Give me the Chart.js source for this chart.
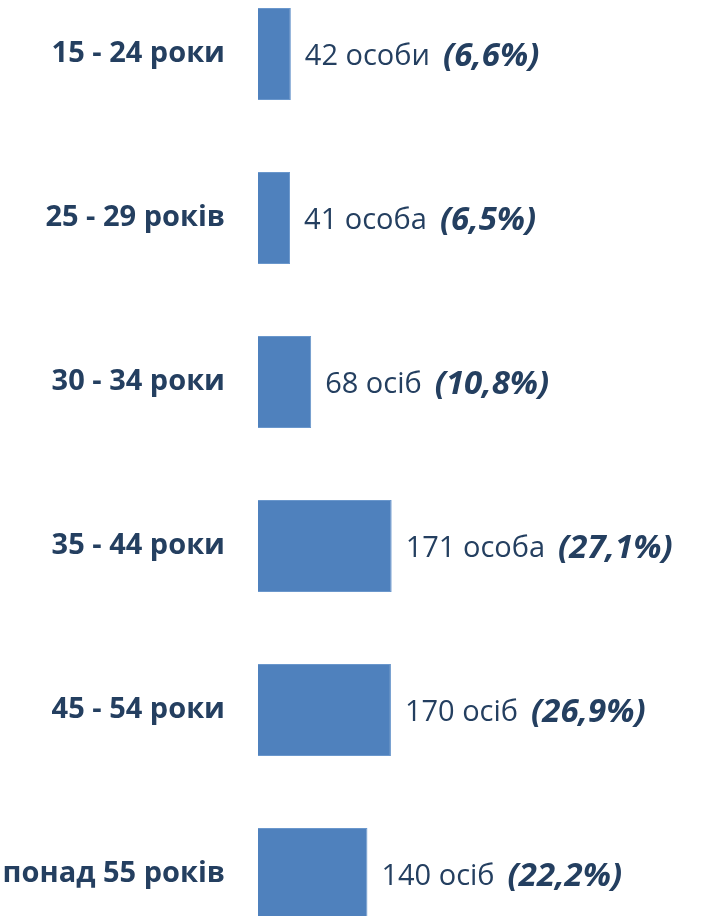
<!DOCTYPE html>
<html>
<head>
<meta charset="utf-8">
<script src="https://cdn.jsdelivr.net/npm/chart.js@4/dist/chart.umd.min.js"></script>
<style>
  html, body { margin: 0; padding: 0; background: #fff; overflow: hidden; }
  #chart { position: absolute; left: 0; top: -28px; }
</style>
</head>
<body>
<canvas id="chart" width="727" height="984"></canvas>
<script>
// --- дані ---
const categories = ['15 - 24 роки', '25 - 29 років', '30 - 34 роки', '35 - 44 роки', '45 - 54 роки', 'понад 55 років'];
const counts = [42, 41, 68, 171, 170, 140];
const countLabels = ['42 особи', '41 особа', '68 осіб', '171 особа', '170 осіб', '140 осіб'];
const percentLabels = ['(6,6%)', '(6,5%)', '(10,8%)', '(27,1%)', '(26,9%)', '(22,2%)'];

const textColor = '#243F60';
const fontFamily = '"Open Sans", "Noto Sans", sans-serif';

// підписи праворуч від стовпців
const valueLabels = {
    id: 'valueLabels',
    afterDatasetsDraw(chart) {
        const ctx = chart.ctx;
        const meta = chart.getDatasetMeta(0);
        ctx.save();
        ctx.textBaseline = 'middle';
        ctx.textAlign = 'left';
        ctx.fillStyle = textColor;
        meta.data.forEach((bar, i) => {
            let x = bar.x + 14;
            const y = bar.y + 3;
            ctx.font = '400 29px ' + fontFamily;
            ctx.fillText(countLabels[i], x, y);
            x += ctx.measureText(countLabels[i]).width + 13;
            ctx.font = 'italic 700 33px ' + fontFamily;
            ctx.fillText(percentLabels[i], x, y);
        });
        ctx.restore();
    }
};

new Chart(document.getElementById('chart'), {
    type: 'bar',
    data: {
        labels: categories,
        datasets: [{
            data: counts,
            backgroundColor: '#4F81BD',
            borderColor: '#6A97CC',
            borderWidth: 1,
            categoryPercentage: 1,
            barPercentage: 0.56
        }]
    },
    options: {
        indexAxis: 'y',
        responsive: false,
        animation: false,
        layout: { padding: 0 },
        plugins: {
            legend: { display: false },
            tooltip: { enabled: false }
        },
        scales: {
            x: {
                display: false,
                min: 0,
                max: 600
            },
            y: {
                grid: { display: false, drawTicks: false },
                border: { display: false },
                ticks: {
                    padding: 33,
                    color: textColor,
                    font: { family: fontFamily, size: 29, weight: 'bold' }
                },
                afterFit(scale) {
                    // фіксована ширина осі і без зайвих відступів зверху/знизу
                    scale.width = 258;
                    scale.paddingTop = 0;
                    scale.paddingBottom = 0;
                }
            }
        }
    },
    plugins: [valueLabels]
});
</script>
</body>
</html>
